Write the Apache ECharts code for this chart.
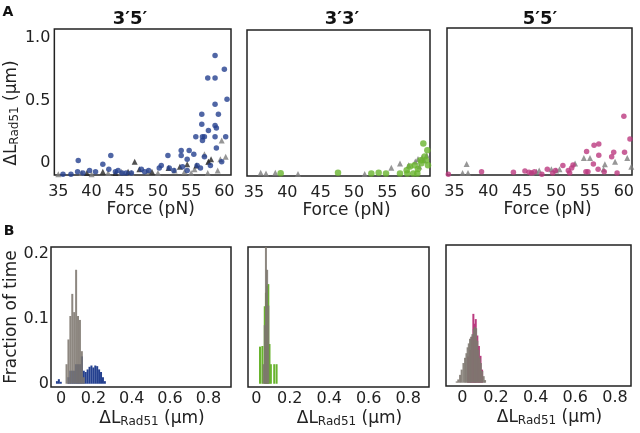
<!DOCTYPE html>
<html><head><meta charset="utf-8">
<script src="https://cdn.jsdelivr.net/npm/echarts@6/dist/echarts.min.js"></script>
<style>html,body{margin:0;padding:0;background:#fff}#c{width:640px;height:433px}</style>
</head><body><div id="c"></div>
<script>
// ---------- Panel titles / tick labels ----------
const panelTitles = ['3\u20325\u2032', '3\u20323\u2032', '5\u20325\u2032'];
const forceTicks = [35, 40, 45, 50, 55, 60];
const dlTicks = [0, 0.5, 1.0];
const histXTicks = [0, 0.2, 0.4, 0.6, 0.8];
const fracTicks = [0, 0.1, 0.2];

// ---------- A: 3'5' scatter ----------
const a35BlueX = [58.6,60.0,57.5,58.6,60.4,58.6,56.6,59.1,56.6,58.6,58.8,57.6,56.7,55.7,57.0,58.6,60.2,56.7,58.8,53.5,54.7,55.4,53.5,51.5,57.0,42.9,38.0,41.7,39.7,35.7,37.9,38.7,42.6,43.6,44.6,46.0,47.5,48.6,50.2,51.7,52.4,53.7,54.4,55.9,56.4,57.9,59.6,50.5,54.4,40.6,45.2,48.0,36.9,44.0];
const a35BlueY = [0.86,0.75,0.68,0.68,0.51,0.47,0.39,0.39,0.31,0.30,0.28,0.26,0.21,0.21,0.21,0.21,0.21,0.18,0.12,0.10,0.10,0.07,0.06,0.06,0.05,0.06,0.02,-0.01,-0.06,-0.09,-0.07,-0.08,-0.05,-0.07,-0.08,-0.08,-0.05,-0.06,-0.04,-0.04,-0.06,-0.03,-0.06,-0.02,-0.04,-0.02,0.01,-0.02,0.03,-0.07,-0.08,-0.07,-0.09,-0.06];
const a35GrayX = [35.0,38.5,40.0,42.5,44.5,46.0,48.5,50.0,52.5,54.0,55.5,59.6,57.6,59.4,60.2,59.0,57.5,55.0,57.0];
const a35GrayY = [-0.09,-0.08,-0.09,-0.08,-0.07,-0.08,-0.07,-0.08,-0.06,-0.07,-0.05,0.18,0.01,0.03,0.05,-0.06,-0.08,-0.08,0.07];
const a35DarkX = [46.5,57.6,58.0,54.4,53.3,51.6,49.1,47.2,45.5,41.7,39.3,43.6,55.8];
const a35DarkY = [0.01,0.01,0.03,-0.01,-0.03,-0.04,-0.07,-0.05,-0.07,-0.07,-0.08,-0.08,-0.02];

// ---------- A: 3'3' scatter ----------
const a33GreenX = [39.0,47.6,52.6,53.7,54.8,56.9,57.9,58.4,59.1,59.6,60.1,60.4,61.0,60.6,61.1,58.9,59.5,60.0,60.8,58.0];
const a33GreenY = [-0.074,-0.07,-0.075,-0.07,-0.075,-0.075,-0.05,-0.02,-0.01,-0.04,0.006,0.165,0.11,0.06,-0.01,-0.075,-0.075,0.03,0.03,-0.075];
const a33GrayX = [36.0,36.8,38.2,41.6,51.6,55.6,56.9,58.2,59.2,59.6,60.2,60.5,60.9,59.8];
const a33GrayY = [-0.07,-0.075,-0.07,-0.08,-0.08,-0.03,0.005,-0.01,0.02,0.04,0.05,0.03,0.07,-0.02];

// ---------- A: 5'5' scatter ----------
const a55PinkX = [60.0,60.9,55.6,56.3,54.5,58.5,60.1,56.3,58.2,55.5,56.2,54.7,54.4,57.1,59.0,52.5,51.0,52.3,51.8,52.0,49.5,49.9,48.7,45.4,46.4,46.0,46.8,47.9,43.7,39.0,34.1];
const a55PinkY = [0.37,0.19,0.14,0.15,0.09,0.085,0.085,0.06,0.05,-0.008,-0.05,-0.07,-0.07,-0.07,-0.08,-0.016,-0.02,-0.04,-0.06,-0.08,-0.08,-0.06,-0.05,-0.064,-0.08,-0.075,-0.07,-0.09,-0.075,-0.07,-0.09];
const a55GrayX = [36.8,36.2,37.0,47.1,46.4,49.3,50.0,50.5,52.8,54.1,55.0,57.2,57.0,60.5,61.1,58.7,47.5];
const a55GrayY = [-0.008,-0.08,-0.08,-0.07,-0.08,-0.05,-0.06,-0.05,-0.005,0.04,0.04,-0.01,-0.05,0.04,-0.03,0.01,-0.06];

// ---------- B: histograms (bin centre, fraction of time) ----------
const b35BlueX = [0.01,0.02,0.03,0.07,0.08,0.09,0.10,0.11,0.12,0.13,0.14,0.15,0.16,0.17,0.18,0.19,0.20,0.21,0.22,0.23,0.24,0.25,0.26];
const b35BlueY = [0.004,0.007,0.003,0.01,0.02,0.02,0.02,0.03,0.03,0.03,0.042,0.02,0.018,0.022,0.026,0.028,0.025,0.028,0.027,0.022,0.018,0.01,0.004];
const b35GrayX = [0.06,0.07,0.08,0.09,0.10,0.11,0.12,0.13,0.14,0.15];
const b35GrayY = [0.03,0.068,0.104,0.138,0.11,0.175,0.104,0.098,0.05,0.01];

const b33GreenX = [0.049,0.061,0.073,0.079,0.085,0.091,0.097,0.104,0.121,0.133];
const b33GreenY = [0.057,0.058,0.119,0.14,0.15,0.153,0.061,0.03,0.03,0.03];
const b33GrayX = [0.067,0.073,0.079,0.085,0.091];
const b33GrayY = [0.03,0.09,0.24,0.175,0.12];

const b55PinkX = [0.06,0.07,0.078,0.086,0.092,0.098,0.106,0.114,0.122,0.13];
const b55PinkY = [0.04,0.05,0.07,0.105,0.09,0.097,0.072,0.056,0.041,0.02];
const b55GrayX = [0.002,0.01,0.019,0.027,0.036,0.044,0.051,0.057,0.063,0.069,0.075,0.081,0.088,0.094,0.100,0.106,0.112,0.118,0.124,0.131,0.138,0.145];
const b55GrayY = [0.002,0.005,0.012,0.02,0.03,0.038,0.045,0.054,0.06,0.067,0.07,0.074,0.082,0.085,0.083,0.064,0.05,0.038,0.03,0.018,0.01,0.004];

const zip = (xs, ys) => xs.map((x, i) => [x, ys[i]]);

const FONT = '"DejaVu Sans", "Liberation Sans", Arial, sans-serif';
const BLUE = '#24408f', GREEN = '#69b42e', PINK = '#bb3a80';
const TRI_GRAY = '#7d7d7d', TRI_DARK = '#262626';
const HIST_GRAY = 'rgba(125,118,110,0.88)';

const grids = [
  {left: 51, top: 29, width: 180, height: 146},
  {left: 247, top: 30, width: 183, height: 146},
  {left: 447, top: 28, width: 185, height: 147},
  {left: 51, top: 247, width: 180, height: 140},
  {left: 248, top: 247, width: 181, height: 140},
  {left: 446, top: 245, width: 185, height: 141}
].map(g => Object.assign({show: true, borderColor: '#222', borderWidth: 1.5, backgroundColor: 'transparent', containLabel: false}, g));

const richName = {
  a: {fontSize: 17, fontFamily: FONT, color: '#222', verticalAlign: 'top', lineHeight: 18},
  s: {fontSize: 12, fontFamily: FONT, color: '#222', verticalAlign: 'bottom', lineHeight: 14, padding: [8, 0, 0, 0]}
};
const dlName = '{a|\u0394L}{s|Rad51}{a| (\u03bcm)}';

const tickStyle = {fontSize: 16, fontFamily: FONT, color: '#222'};
const xRanges = [[34.4, 61.0], [33.95, 61.4], [33.9, 61.2], [-0.021, 0.918], [-0.012, 0.906], [-0.052, 0.881]];

const xAxes = xRanges.map((r, i) => {
  const isA = i < 3;
  const ax = {
    type: 'value', gridIndex: i, min: r[0], max: r[1],
    axisLine: {show: false}, axisTick: {show: false}, splitLine: {show: false},
    axisLabel: Object.assign({margin: isA ? 9 : 4, customValues: isA ? forceTicks : histXTicks,
      formatter: v => isA ? String(v) : (v === 0 ? '{z|0}' : v.toFixed(1)),
      rich: {z: {fontSize: 16, fontFamily: FONT, color: '#222', padding: [0, 0, 0, 12]}}}, tickStyle),
    nameLocation: 'middle'
  };
  if (isA) {
    ax.name = 'Force (pN)'; ax.nameGap = 22;
    ax.nameTextStyle = {fontSize: 17, fontFamily: FONT, color: '#222', padding: [0, 0, 0, 16]};
  } else {
    ax.name = dlName; ax.nameGap = 20;
    ax.nameTextStyle = {rich: richName, padding: [0, 0, 0, 22]};
  }
  return ax;
});

const yAxes = [0,1,2,3,4,5].map(i => {
  const isA = i < 3;
  const ax = {
    type: 'value', gridIndex: i,
    min: isA ? -0.096 : -0.005, max: isA ? 1.072 : 0.21,
    axisLine: {show: false}, axisTick: {show: false}, splitLine: {show: false},
    axisLabel: Object.assign({show: i === 0 || i === 3, margin: isA ? 4 : 2,
      customValues: isA ? dlTicks : fracTicks,
      formatter: v => v === 0 ? '0' : v.toFixed(1)}, tickStyle),
    nameLocation: 'middle', nameRotate: 90
  };
  if (i === 0) {
    ax.name = dlName; ax.nameGap = 27;
    ax.nameTextStyle = {rich: richName, padding: [0, 22, 0, 0]};
  }
  if (i === 3) {
    ax.name = 'Fraction of time'; ax.nameGap = 30;
    ax.nameTextStyle = {fontSize: 17, fontFamily: FONT, color: '#222'};
  }
  return ax;
});

const sc = (i, xs, ys, color, sym, size) => ({
  type: 'scatter', xAxisIndex: i, yAxisIndex: i, data: zip(xs, ys),
  symbol: sym, symbolSize: size, itemStyle: {color: color}, silent: true, animation: false
});
const bar = (i, xs, ys, color) => ({
  type: 'bar', xAxisIndex: i, yAxisIndex: i, data: zip(xs, ys),
  barWidth: 2, barGap: '-100%', itemStyle: {color: color}, silent: true, animation: false
});

const series = [
  sc(0, a35GrayX, a35GrayY, TRI_GRAY, 'triangle', 6),
  sc(0, a35DarkX, a35DarkY, TRI_DARK, 'triangle', 6),
  sc(0, a35BlueX, a35BlueY, BLUE, 'circle', 5.5),
  sc(1, a33GrayX, a33GrayY, TRI_GRAY, 'triangle', 6),
  sc(1, a33GreenX, a33GreenY, GREEN, 'circle', 6.5),
  sc(2, a55GrayX, a55GrayY, TRI_GRAY, 'triangle', 6),
  sc(2, a55PinkX, a55PinkY, PINK, 'circle', 5.5),
  bar(3, b35BlueX, b35BlueY, BLUE),
  bar(3, b35GrayX, b35GrayY, HIST_GRAY),
  bar(4, b33GreenX, b33GreenY, GREEN),
  bar(4, b33GrayX, b33GrayY, HIST_GRAY),
  bar(5, b55PinkX, b55PinkY, PINK),
  bar(5, b55GrayX, b55GrayY, HIST_GRAY)
];

const titleX = [130, 342, 540];
const graphic = panelTitles.map((t, i) => ({
  type: 'text', x: titleX[i], y: 19,
  style: {text: t, font: 'bold 18px ' + FONT, fill: '#111', align: 'center', verticalAlign: 'middle'}
})).concat([
  {type: 'text', x: 8, y: 12, style: {text: 'A', font: 'bold 14px ' + FONT, fill: '#111', align: 'center', verticalAlign: 'middle'}},
  {type: 'text', x: 9, y: 231, style: {text: 'B', font: 'bold 14px ' + FONT, fill: '#111', align: 'center', verticalAlign: 'middle'}}
]);

const chart = echarts.init(document.getElementById('c'), null, {renderer: 'canvas'});
chart.setOption({
  animation: false,
  backgroundColor: '#fff',
  grid: grids, xAxis: xAxes, yAxis: yAxes, series: series, graphic: graphic
});
</script></body></html>
